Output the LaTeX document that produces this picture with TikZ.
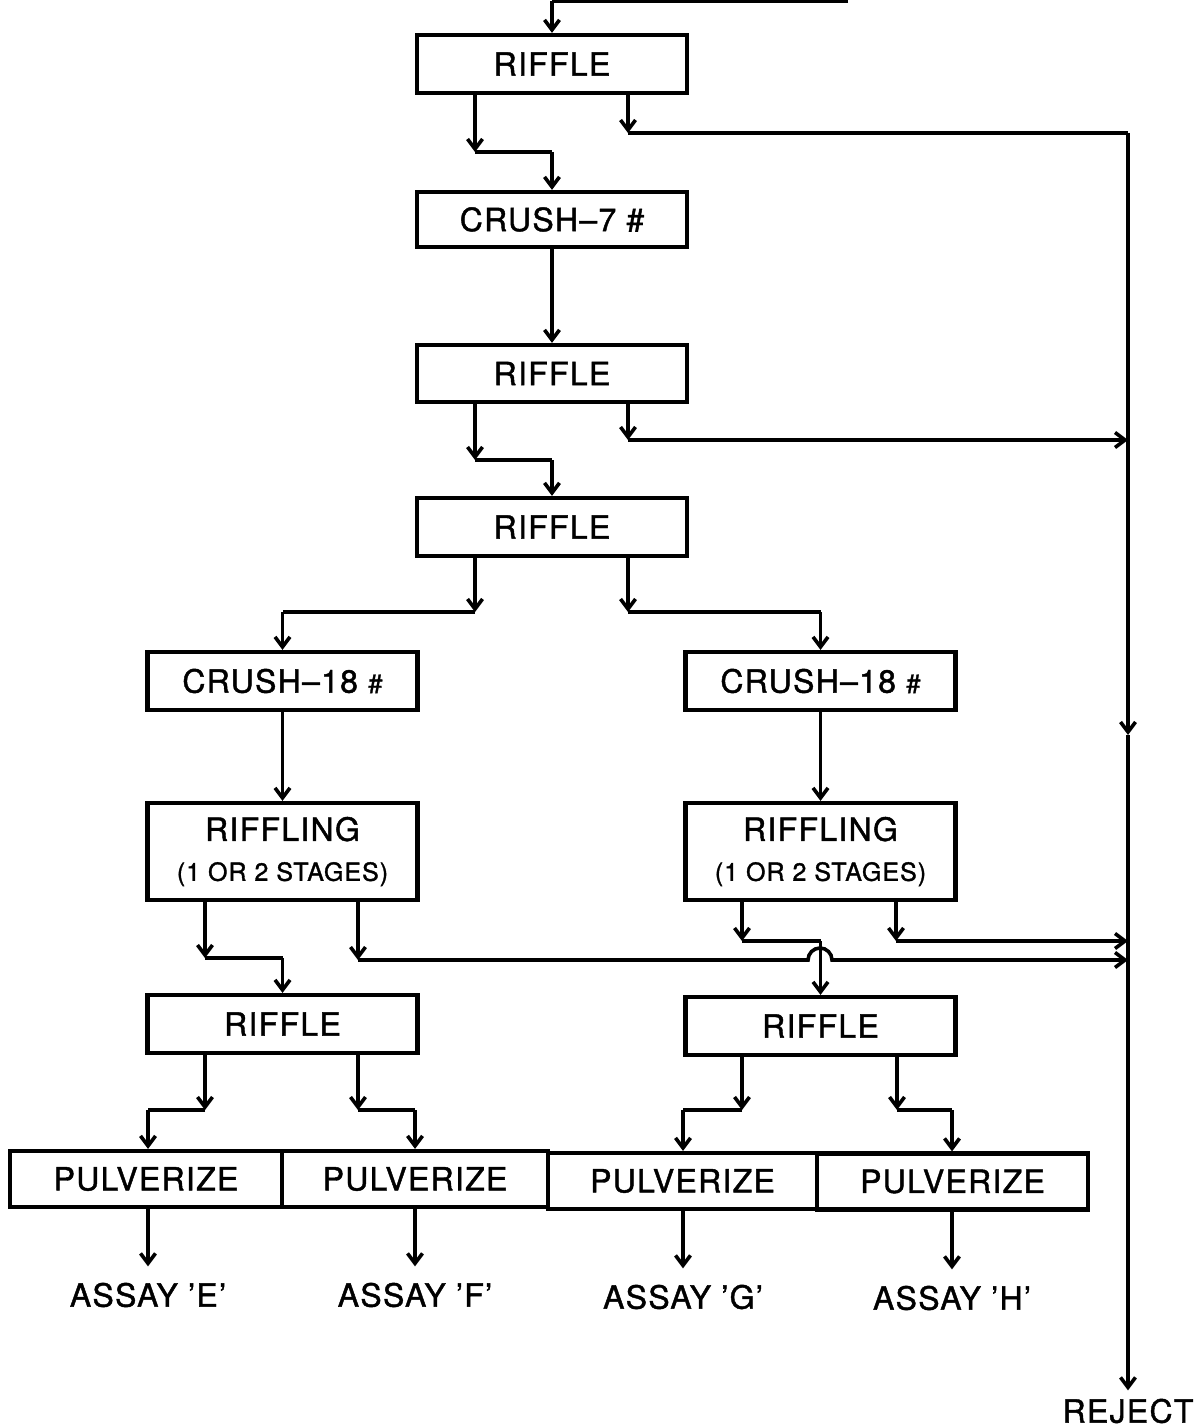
\documentclass[tikz,border=0pt]{standalone}
\usepackage{fontspec}
\setmainfont{TeX Gyre Heros}[LetterSpace=4,FakeBold=1.3]
\usetikzlibrary{arrows.meta}
\begin{document}
\begin{tikzpicture}[x=0.5pt,y=-0.5pt,
  box/.style={draw, line width=2.1pt, inner sep=0pt, font=\fontsize{16}{18}\selectfont, align=center},
  wide/.style={minimum width=135pt},
  wire/.style={line width=1.8pt},
  arr/.style={wire,-{Straight Barb[length=5pt,width=7.5pt]}},
  lbl/.style={font=\fontsize{16}{18}\selectfont, inner sep=0pt}]
\useasboundingbox[fill=white] (0,0) rectangle (1200,1427);

% boxes
\node[box,wide,minimum height=29pt] (r1) at (552,64) {RIFFLE};
\node[box,wide,minimum height=27.5pt] (c7) at (552,219.5) {CRUSH–7 \#};
\node[box,wide,minimum height=28.5pt] (r2) at (552,373.5) {RIFFLE};
\node[box,wide,minimum height=29pt] (r3) at (552,527) {RIFFLE};
\node[box,wide,minimum height=29pt] (cL) at (282.5,681) {CRUSH–18 {\fontsize{13}{14}\selectfont\#}};
\node[box,wide,minimum height=29pt] (cR) at (820.5,681) {CRUSH–18 {\fontsize{13}{14}\selectfont\#}};
\node[box,wide,minimum height=48.5pt] (fL) at (282.5,851.5) {RIFFLING\\[2pt]{\fontsize{12.5}{14}\selectfont (1 OR 2 STAGES)}};
\node[box,wide,minimum height=48.5pt] (fR) at (820.5,851.5) {RIFFLING\\[2pt]{\fontsize{12.5}{14}\selectfont (1 OR 2 STAGES)}};
\node[box,wide,minimum height=29pt] (qL) at (282.5,1024) {RIFFLE};
\node[box,wide,minimum height=29pt] (qR) at (820.5,1026) {RIFFLE};
\node[box,minimum width=136pt,minimum height=28pt] (p1) at (146,1179) {PULVERIZE};
\node[box,minimum width=133pt,minimum height=28pt] (p2) at (415,1179) {PULVERIZE};
\node[box,minimum width=134.5pt,minimum height=28pt] (p3) at (682.5,1181) {PULVERIZE};
\node[box,minimum width=135.5pt,minimum height=28pt] (p4) at (952.5,1181.5) {PULVERIZE};

% labels
\node[lbl] (e) at (148,1295) {ASSAY ’E’};
\node[lbl] (f) at (415,1295) {ASSAY ’F’};
\node[lbl] (g) at (683,1297) {ASSAY ’G’};
\node[lbl] (h) at (952,1298) {ASSAY ’H’};
\node[lbl] (rej) at (1128,1411) {REJECT};

% incoming
\coordinate (t1) at (848,1);
\coordinate (t0) at (552,1);
\draw[wire] (t1) -- (t0);
\draw[arr] (t0) -- (r1.north);

% riffle 1
\coordinate (a1) at (475,152);
\coordinate (b1) at (628,133);
\coordinate (rtop) at (1128,133);
\coordinate (rmid) at (1128,735);
\draw[arr] (r1.south -| a1) -- (a1);
\draw[wire] (a1) -- (a1 -| c7.north);
\draw[arr] (a1 -| c7.north) -- (c7.north);
\draw[arr] (r1.south -| b1) -- (b1);
\draw[wire] (b1) -- (rtop);

% reject line
\draw[arr] (rtop) -- (rmid);
\draw[arr, shorten >=4pt] (rmid) -- (rej.north);

% crush 7 -> riffle 2
\draw[arr] (c7) -- (r2);

% riffle 2
\coordinate (a2) at (475,460);
\coordinate (b2) at (628,440);
\draw[arr] (r2.south -| a2) -- (a2);
\draw[wire] (a2) -- (a2 -| r3.north);
\draw[arr] (a2 -| r3.north) -- (r3.north);
\draw[arr] (r2.south -| b2) -- (b2);
\draw[arr] (b2) -- (b2 -| rtop);

% riffle 3
\coordinate (a3) at (475,612);
\coordinate (b3) at (628,612);
\draw[arr] (r3.south -| a3) -- (a3);
\draw[wire] (a3) -- (a3 -| cL.north);
\draw[arr] (a3 -| cL.north) -- (cL.north);
\draw[arr] (r3.south -| b3) -- (b3);
\draw[wire] (b3) -- (b3 -| cR.north);
\draw[arr] (b3 -| cR.north) -- (cR.north);

% crush 18 -> riffling
\draw[arr] (cL) -- (fL);
\draw[arr] (cR) -- (fR);

% riffling left
\coordinate (a4) at (205,958);
\coordinate (b4) at (358,960);
\coordinate (hopL) at (808,960);
\draw[arr] (fL.south -| a4) -- (a4);
\draw[wire] (a4) -- (a4 -| qL.north);
\draw[arr] (a4 -| qL.north) -- (qL.north);
\draw[arr] (fL.south -| b4) -- (b4);
\draw[arr] (b4) -- (hopL) arc[start angle=180, end angle=360, radius=12] -- (b4 -| rtop);

% riffling right
\coordinate (a5) at (742,941);
\coordinate (b5) at (896,941);
\draw[arr] (fR.south -| a5) -- (a5);
\draw[wire] (a5) -- (a5 -| qR.north);
\draw[arr] (a5 -| qR.north) -- (qR.north);
\draw[arr] (fR.south -| b5) -- (b5);
\draw[arr] (b5) -- (b5 -| rtop);

% riffle left bottom
\coordinate (a6) at (205,1110);
\coordinate (b6) at (358,1110);
\draw[arr] (qL.south -| a6) -- (a6);
\draw[wire] (a6) -- (a6 -| e);
\draw[arr] (a6 -| e) -- (p1.north -| e);
\draw[arr] (qL.south -| b6) -- (b6);
\draw[wire] (b6) -- (b6 -| f);
\draw[arr] (b6 -| f) -- (p2.north -| f);

% riffle right bottom
\coordinate (a7) at (742,1110);
\coordinate (b7) at (897,1110);
\draw[arr] (qR.south -| a7) -- (a7);
\draw[wire] (a7) -- (a7 -| g);
\draw[arr] (a7 -| g) -- (p3.north -| g);
\draw[arr] (qR.south -| b7) -- (b7);
\draw[wire] (b7) -- (b7 -| h);
\draw[arr] (b7 -| h) -- (p4.north -| h);

% pulverize -> assay
\draw[arr, shorten >=8pt] (p1.south -| e) -- (e.north);
\draw[arr, shorten >=8pt] (p2.south -| f) -- (f.north);
\draw[arr, shorten >=8pt] (p3.south -| g) -- (g.north);
\draw[arr, shorten >=8pt] (p4.south -| h) -- (h.north);
\end{tikzpicture}
\end{document}
